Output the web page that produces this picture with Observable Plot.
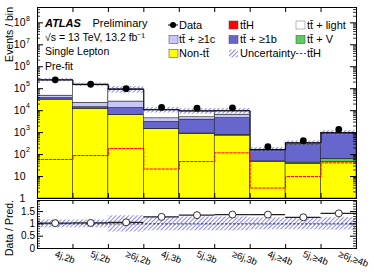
<!DOCTYPE html>
<html><head><meta charset="utf-8">
<script src="https://cdn.jsdelivr.net/npm/d3@7"></script>
<script src="https://cdn.jsdelivr.net/npm/@observablehq/plot@0.6"></script>
<style>
body{margin:0;background:#fff;}
#c{position:relative;width:374px;height:277px;font-family:"Liberation Sans",Arial,sans-serif;}
#c svg{position:absolute;left:0;top:0;font-family:"Liberation Sans",Arial,sans-serif;}
</style></head><body><div id="c"></div>
<script>
// ---- data ----
const categories = ["4j,2b","5j,2b","\u22656j,2b","4j,3b","5j,3b","\u22656j,3b","4j,\u22654b","5j,\u22654b","\u22656j,\u22654b"];
const nonTT   = [32000, 12300, 6300, 1450, 870, 730, 45, 38, 45];
const ttV     = [300, 200, 150, 40, 40, 40, 4, 5, 19];
const ttB     = [5000, 1900, 6800, 1600, 3000, 3800, 95, 230, 780];
const ttC     = [11000, 8600, 12800, 1400, 1100, 2000, 12, 25, 50];
const ttLight = [199600, 131000, 67800, 6400, 4540, 3100, 8, 31, 44];
const ttH     = [60, 90, 190, 22, 48, 120, 3, 10, 42];
const dataObs = [255000, 160000, 100000, 14000, 13000, 13500, 230, 430, 1400];
const relErr  = [0.16, 0.16, 0.33, 0.28, 0.28, 0.28, 0.24, 0.24, 0.25];
const yTickDecades = [1, 10, 1e2, 1e3, 1e4, 1e5, 1e6, 1e7, 1e8];
const ratioTicks = [0, 0.5, 1, 1.5];

const n = categories.length;
const layers = [
  {vals: nonTT, fill: "#ffff00"},
  {vals: ttV, fill: "#5ccc5c"},
  {vals: ttB, fill: "#6666cc"},
  {vals: ttC, fill: "#c8c8f8"},
  {vals: ttLight, fill: "#ffffff"},
  {vals: ttH, fill: "#ff0000"}
];
const rects = [];
const cum = new Array(n).fill(0);
layers.forEach((L, li) => {
  for (let i = 0; i < n; i++) {
    const lo = cum[i], hi = lo + L.vals[i];
    rects.push({i, lo: li === 0 ? 1 : lo, hi, fill: L.fill});
    cum[i] = hi;
  }
});
const total = cum.slice();
const steps = (arr) => arr.flatMap((v, i) => [{x: i, y: v}, {x: i + 1, y: v}]);
const band = total.map((t, i) => ({i, lo: t * (1 - relErr[i]), hi: t * (1 + relErr[i])}));
const ratio = dataObs.map((d, i) => d / total[i]);
const rband = relErr.map((e, i) => ({i, lo: 1 - e, hi: 1 + e}));

const minorLog = [];
for (const d of yTickDecades) for (let k = 2; k <= 9; k++) if (d * k < 5e8) minorLog.push(d * k);
const bounds = d3.range(1, n);
const ratioMinor = d3.range(0, 1.95, 0.1).filter(v => Math.abs(v * 2 - Math.round(v * 2)) > 1e-6);

const W = 374, H = 277, ML = 37, MR = 18;
const frameW = W - ML - MR;
const mainH = 277 - 7 - 79;
const ratioH = 277 - 200 - 29;

const main = Plot.plot({
  width: W, height: H, marginTop: 7, marginBottom: 79, marginLeft: ML, marginRight: MR,
  style: {background: "none", overflow: "visible", fontFamily: "Liberation Sans, Arial, sans-serif"},
  x: {domain: [0, n], axis: null},
  y: {type: "log", domain: [1, 5e8], axis: null},
  color: {type: "identity"},
  marks: [
    Plot.rect(rects, {x1: d => d.i, x2: d => d.i + 1, y1: "lo", y2: "hi", fill: "fill", stroke: "#111", strokeWidth: 0.5, clip: true}),
    Plot.rect(band, {x1: d => d.i, x2: d => d.i + 1, y1: "lo", y2: "hi", fill: "#000", className: "hatchA", clip: true}),
    Plot.line(steps(total), {x: "x", y: "y", stroke: "#000", strokeWidth: 1}),
    Plot.line(steps(ttH), {x: "x", y: "y", stroke: "#ff0000", strokeWidth: 1, strokeDasharray: "2.5,1.5"}),
    Plot.dot(dataObs, {x: (d, i) => i + 0.5, y: d => d, r: 3.4, fill: "#000"}),
    Plot.frame({stroke: "#000", strokeWidth: 1}),
    Plot.tickY(yTickDecades, {y: d => d, insetRight: frameW - 6, stroke: "#000"}),
    Plot.tickY(yTickDecades, {y: d => d, insetLeft: frameW - 6, stroke: "#000"}),
    Plot.tickY(minorLog, {y: d => d, insetRight: frameW - 3, stroke: "#000", strokeWidth: 0.8}),
    Plot.tickY(minorLog, {y: d => d, insetLeft: frameW - 3, stroke: "#000", strokeWidth: 0.8}),
    Plot.tickX(bounds, {x: d => d, insetBottom: mainH - 5, stroke: "#000"}),
    Plot.tickX(bounds, {x: d => d, insetTop: mainH - 5, stroke: "#000"}),
    Plot.text(yTickDecades.filter(d => d >= 10), {y: d => d, text: () => "10", frameAnchor: "left", dx: -12, textAnchor: "end", fontSize: 10.5, fill: "#000"}),
    Plot.text(yTickDecades.filter(d => d >= 100), {y: d => d, text: d => String(Math.round(Math.log10(d))), frameAnchor: "left", dx: -11.5, dy: -4.5, textAnchor: "start", fontSize: 7, fill: "#000"}),
    Plot.text(yTickDecades.filter(d => d < 10), {y: d => d, text: () => "1", frameAnchor: "left", dx: -15, textAnchor: "middle", fontSize: 10.5, fill: "#000"})
  ]
});

const ratioPlot = Plot.plot({
  width: W, height: H, marginTop: 200, marginBottom: 29, marginLeft: ML, marginRight: MR,
  style: {background: "none", overflow: "visible", fontFamily: "Liberation Sans, Arial, sans-serif"},
  x: {domain: [0, n], axis: null},
  y: {domain: [0, 1.95], axis: null},
  marks: [
    Plot.rect(rband, {x1: d => d.i, x2: d => d.i + 1, y1: "lo", y2: "hi", fill: "#000", className: "hatchB"}),
    Plot.ruleY([1], {stroke: "#000", strokeWidth: 0.8, strokeDasharray: "2.5,1.5"}),
    Plot.ruleY(ratio, {y: d => d, x1: (d, i) => i, x2: (d, i) => i + 1, stroke: "#222", strokeWidth: 1.2}),
    Plot.dot(ratio, {x: (d, i) => i + 0.5, y: d => d, r: 3.5, fill: "#fff", stroke: "#000", strokeWidth: 0.8}),
    Plot.frame({stroke: "#000", strokeWidth: 1}),
    Plot.tickY(ratioTicks, {y: d => d, insetRight: frameW - 6, stroke: "#000"}),
    Plot.tickY(ratioTicks, {y: d => d, insetLeft: frameW - 6, stroke: "#000"}),
    Plot.tickY(ratioMinor, {y: d => d, insetRight: frameW - 3, stroke: "#000", strokeWidth: 0.8}),
    Plot.tickY(ratioMinor, {y: d => d, insetLeft: frameW - 3, stroke: "#000", strokeWidth: 0.8}),
    Plot.tickX(bounds, {x: d => d, insetBottom: ratioH - 4, stroke: "#000"}),
    Plot.tickX(bounds, {x: d => d, insetTop: ratioH - 4, stroke: "#000"}),
    Plot.text(ratioTicks, {y: d => d, text: d => String(d), frameAnchor: "left", dx: -2.5, textAnchor: "end", fontSize: 10, fill: "#000"}),
    Plot.text(categories, {x: (d, i) => i + 0.5, text: d => d, frameAnchor: "bottom", dx: -1, dy: 8, rotate: 20, textAnchor: "start", fontSize: 9.5, fill: "#000"})
  ]
});

const c = document.getElementById("c");
c.appendChild(main);
c.appendChild(ratioPlot);

function addHatch(svgEl, id, cls) {
  const s = d3.select(svgEl);
  s.insert("defs", ":first-child").html(
    `<pattern id="${id}" patternUnits="userSpaceOnUse" width="3" height="3" patternTransform="rotate(45)">` +
    `<line x1="0.5" y1="0" x2="0.5" y2="3" stroke="#7b7bf0" stroke-width="0.9"/></pattern>`);
  s.selectAll(`.${cls} rect, g.${cls} rect`).attr("fill", `url(#${id})`);
  s.selectAll(`g.${cls}`).attr("fill", `url(#${id})`);
}
addHatch(main, "hatchA", "hatchA");
addHatch(ratioPlot, "hatchB", "hatchB");

// ---- annotations, legend, axis titles ----
const svg = d3.select(main);
const g = svg.append("g").attr("font-family", "Liberation Sans, Arial, sans-serif").attr("fill", "#000").attr("text-anchor", "start");
function txt(x, y, s, size, opts = {}) {
  const t = g.append("text").attr("x", x).attr("y", y).attr("font-size", size).attr("dy", "0.35em").attr("text-anchor", "start").text(s);
  for (const k in opts) t.attr(k, opts[k]);
  return t;
}
txt(45, 23, "ATLAS", 11, {"font-weight": "bold", "font-style": "italic"});
txt(92.5, 23, "Preliminary", 11);
txt(45, 37, "\u221As = 13 TeV, 13.2 fb\u207B\u00B9", 10.5);
txt(45, 51.5, "Single Lepton", 10.5);
txt(45, 66, "Pre-fit", 10.5);

const rowsY = [25, 39.5, 53.5];
const colSw = [169, 229, 296];
const colTx = [179, 240, 307];
const legend = [
  {r: 0, c: 0, label: "Data", type: "data"},
  {r: 0, c: 1, label: "tt\u0304H", type: "box", fill: "#ff0000"},
  {r: 0, c: 2, label: "tt\u0304 + light", type: "box", fill: "#ffffff", stroke: "#888"},
  {r: 1, c: 0, label: "tt\u0304 + \u22651c", type: "box", fill: "#c8c8f8"},
  {r: 1, c: 1, label: "tt\u0304 + \u22651b", type: "box", fill: "#6666cc"},
  {r: 1, c: 2, label: "tt\u0304 + V", type: "box", fill: "#5ccc5c"},
  {r: 2, c: 0, label: "Non-tt\u0304", type: "box", fill: "#ffff00"},
  {r: 2, c: 1, label: "Uncertainty", type: "hatch"},
  {r: 2, c: 2, label: "tt\u0304H", type: "dash"}
];
for (const e of legend) {
  const y = rowsY[e.r], x = colSw[e.c];
  if (e.type === "data") {
    g.append("line").attr("x1", x - 1).attr("x2", x + 9).attr("y1", y).attr("y2", y).attr("stroke", "#000");
    g.append("circle").attr("cx", x + 4).attr("cy", y).attr("r", 3).attr("fill", "#000");
  } else if (e.type === "box") {
    g.append("rect").attr("x", x).attr("y", y - 4).attr("width", 9).attr("height", 8)
      .attr("fill", e.fill).attr("stroke", e.stroke || "#555").attr("stroke-width", 0.6);
  } else if (e.type === "hatch") {
    g.append("rect").attr("x", x).attr("y", y - 4).attr("width", 9).attr("height", 8).attr("fill", "url(#hatchA)");
  } else if (e.type === "dash") {
    g.append("line").attr("x1", x).attr("x2", x + 10).attr("y1", y).attr("y2", y)
      .attr("stroke", "#ff0000").attr("stroke-dasharray", "2.5,1.5");
  }
  txt(colTx[e.c], y, e.label, 11);
}
g.append("text").attr("transform", "translate(9,7) rotate(-90)").attr("text-anchor", "end")
  .attr("dy", "0.35em").attr("font-size", 10.5).text("Events / bin");
d3.select(ratioPlot).append("text").attr("transform", "translate(9,200) rotate(-90)").attr("text-anchor", "end")
  .attr("dy", "0.35em").attr("font-size", 10.5).attr("font-family", "Liberation Sans, Arial, sans-serif").text("Data / Pred.");
</script></body></html>
